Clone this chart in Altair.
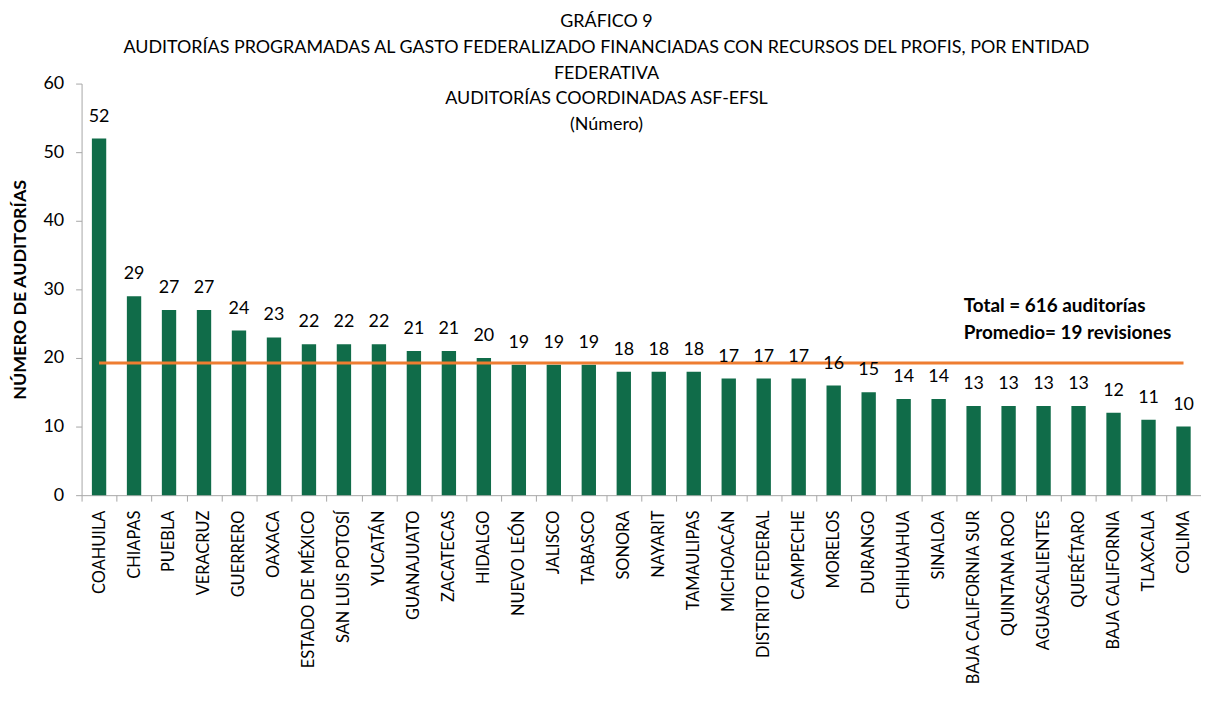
import altair as alt
import pandas as pd

entidades = ["COAHUILA", "CHIAPAS", "PUEBLA", "VERACRUZ", "GUERRERO", "OAXACA",
             "ESTADO DE MÉXICO", "SAN LUIS POTOSÍ", "YUCATÁN", "GUANAJUATO", "ZACATECAS",
             "HIDALGO", "NUEVO LEÓN", "JALISCO", "TABASCO", "SONORA", "NAYARIT",
             "TAMAULIPAS", "MICHOACÁN", "DISTRITO FEDERAL", "CAMPECHE", "MORELOS",
             "DURANGO", "CHIHUAHUA", "SINALOA", "BAJA CALIFORNIA SUR", "QUINTANA ROO",
             "AGUASCALIENTES", "QUERÉTARO", "BAJA CALIFORNIA", "TLAXCALA", "COLIMA"]
auditorias = [52, 29, 27, 27, 24, 23, 22, 22, 22, 21, 21, 20, 19, 19, 19, 18, 18,
              18, 17, 17, 17, 16, 15, 14, 14, 13, 13, 13, 13, 12, 11, 10]
promedio = sum(auditorias) / len(auditorias)

titulo = ["GRÁFICO 9",
          "AUDITORÍAS PROGRAMADAS AL GASTO FEDERALIZADO FINANCIADAS CON RECURSOS DEL PROFIS, POR ENTIDAD",
          "FEDERATIVA",
          "AUDITORÍAS COORDINADAS ASF-EFSL",
          "(Número)"]
nota_texto = ["Total = 616 auditorías", "Promedio= 19 revisiones"]
nota_x = ["BAJA CALIFORNIA SUR"]
nota_y = [27.5]

FONT = "Lato"
GREEN = "#106C49"
ORANGE = "#EE7D31"
AXIS = "#A6A6A6"
W = 1126

df = pd.DataFrame({"entidad": entidades, "n": auditorias,
                   "prom": [promedio] * len(entidades)})
nota = pd.DataFrame({"x": nota_x, "y": nota_y, "t": [nota_texto]})

xscale = alt.Scale(domain=entidades, paddingInner=0, paddingOuter=0)
yscale = alt.Scale(domain=[0, 60], nice=False)

xaxis = alt.Axis(title=None, orient="bottom", labelAngle=-90, labelFont=FONT,
                 labelFontSize=16.5, labelColor="black", labelPadding=9,
                 ticks=True, tickSize=6, tickColor=AXIS, tickBand="extent",
                 domainColor=AXIS, labelOverlap=False, labelLimit=400)

yaxis = alt.Axis(values=[0, 10, 20, 30, 40, 50, 60], grid=False,
                 title="NÚMERO DE AUDITORÍAS", titleFont=FONT, titleFontSize=18,
                 titleFontWeight="bold", titleColor="black", titlePadding=14,
                 labelFont=FONT, labelFontSize=18, labelColor="black", labelPadding=12,
                 tickSize=6, tickColor=AXIS, domainColor=AXIS)

bars = alt.Chart(df).mark_bar(width={"band": 0.41}, color=GREEN).encode(
    x=alt.X("entidad:N", scale=xscale, sort=entidades, axis=xaxis),
    y=alt.Y("n:Q", scale=yscale, axis=yaxis),
)

line = alt.Chart(df).mark_line(color=ORANGE, strokeWidth=3).encode(
    x=alt.X("entidad:N", scale=xscale, sort=entidades, axis=xaxis),
    y=alt.Y("prom:Q", scale=yscale, axis=yaxis),
)

labels = alt.Chart(df).mark_text(font=FONT, fontSize=18, color="black",
                                 baseline="alphabetic", dy=-17).encode(
    x=alt.X("entidad:N", scale=xscale, sort=entidades, axis=xaxis),
    y=alt.Y("n:Q", scale=yscale, axis=yaxis),
    text="n:Q",
)

note = alt.Chart(nota).mark_text(font=FONT, fontSize=19, fontWeight="bold", color="black",
                                 align="left", baseline="middle", dx=-10,
                                 lineHeight=27).encode(
    x=alt.X("x:N", scale=xscale, sort=entidades, axis=xaxis),
    y=alt.Y("y:Q", scale=yscale, axis=yaxis),
    text="t",
)

chart = alt.layer(bars, line, labels, note).properties(
    width=W, height=414,
    autosize=alt.AutoSizeParams(type="none"),
    padding={"left": 74, "top": 74, "right": 0, "bottom": 200},
    title=alt.Title(text=titulo, font=FONT, fontSize=18, fontWeight="normal",
                    color="black", anchor="middle", frame="group", dx=-35,
                    offset=-60, lineHeight=26),
).configure_view(stroke=None)

chart.save("out.html", embed_options={"renderer": "svg", "actions": False})
